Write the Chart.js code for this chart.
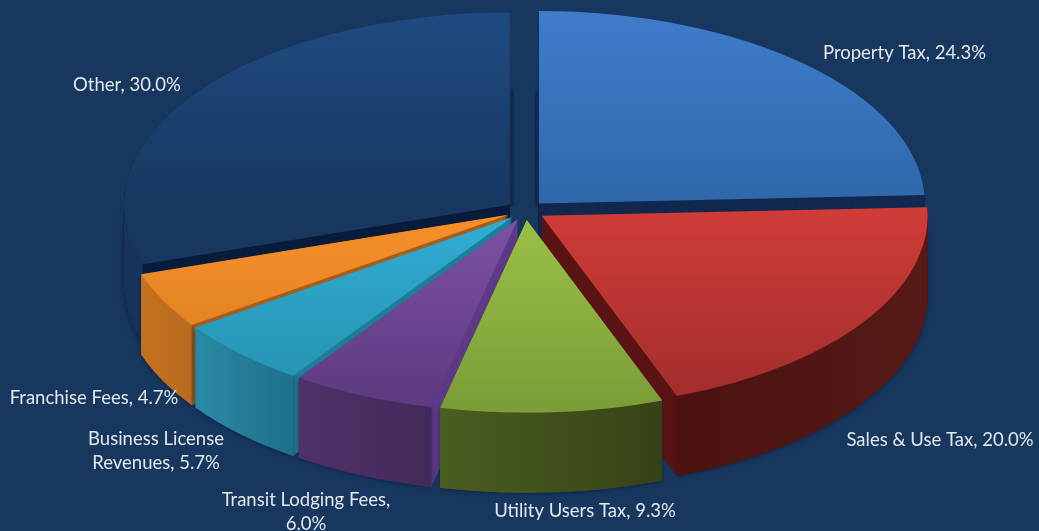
<!DOCTYPE html>
<html>
<head>
<meta charset="utf-8">
<title>Revenue by source</title>
<script src="https://cdn.jsdelivr.net/npm/chart.js@4"></script>
<style>
  html, body { margin: 0; padding: 0; background: #17375f; }
  .chart-wrap { position: relative; width: 1039px; height: 531px; }
</style>
</head>
<body>
<div class="chart-wrap"><canvas id="grafico"></canvas></div>
<script>
// Chart values
const categories = ['Property Tax', 'Sales & Use Tax', 'Utility Users Tax', 'Transit Lodging Fees', 'Business License Revenues', 'Franchise Fees', 'Other'];
const values = [24.3, 20.0, 9.3, 6.0, 5.7, 4.7, 30.0];
const sliceLabels = ['Property Tax, 24.3%', 'Sales & Use Tax, 20.0%', 'Utility Users Tax, 9.3%', 'Transit Lodging Fees,\n6.0%', 'Business License\nRevenues, 5.7%', 'Franchise Fees, 4.7%', 'Other, 30.0%'];

// Colours, same order as categories
const topColors = [['#3f7bca', '#2e67a8'], ['#d03c38', '#a02d2c'], ['#9bc245', '#7c9e39'], ['#7e52a8', '#5e3a80'], ['#31aed4', '#2590b0'], ['#f6902a', '#d97a22'], ['#1f4a80', '#17375f']];
const wallColors = [['#13294f', '#13294f'], ['#4a1210', '#571a17'], ['#4b5e20', '#364216'], ['#4d3168', '#432a5a'], ['#2a8aa5', '#1f6f8a'], ['#c4721f', '#b96a1f'], ['#16335b', '#16335b']];
const cutColors = ['#13294f', '#5a1414', '#5a6f26', '#5e3b87', '#1f7f98', '#a85f1a', '#0a1d3c'];
const wallOrder = [6, 0, 5, 4, 3, 1, 2]; // back to front

// Where each label is centred
const labelSpots = [[904.5, 53], [940, 440], [585, 511], [306, 500], [156, 439], [94, 398], [127, 85]];

const pieRadius = 386;
const explode = 19.3;
const depth = 80;
const squash = 192.5 / 386;
const pieCenterY = 210.5;

function topFill(ctx) {
  const area = ctx.chart.chartArea;
  const colors = topColors[ctx.dataIndex];
  if (!area) return colors[0];
  const cy = (area.top + area.bottom) / 2;
  // Property Tax and Other sit on the upper half of the pie
  const upper = ctx.dataIndex === 0 || ctx.dataIndex === 6;
  const grad = ctx.chart.ctx.createLinearGradient(0, upper ? cy - pieRadius : cy, 0, upper ? cy : cy + pieRadius);
  grad.addColorStop(0, colors[0]);
  grad.addColorStop(1, colors[1]);
  return grad;
}

function drawWall(ctx, arc, i) {
  const drop = depth / squash;
  const { x, y, startAngle, endAngle, outerRadius: r } = arc;

  // Cut faces: the slice repeated downwards
  ctx.fillStyle = cutColors[i];
  for (let d = drop; d > 0; d -= 1) {
    ctx.beginPath();
    ctx.moveTo(x, y + d);
    ctx.arc(x, y + d, r, startAngle, endAngle);
    ctx.closePath();
    ctx.fill();
  }

  // Outer rim, only the part that faces the viewer
  const from = Math.max(startAngle, 0);
  const to = Math.min(endAngle, Math.PI);
  if (to <= from) return;
  const grad = ctx.createLinearGradient(x + r * Math.cos(to), 0, x + r * Math.cos(from), 0);
  grad.addColorStop(0, wallColors[i][0]);
  grad.addColorStop(1, wallColors[i][1]);
  ctx.save();
  ctx.shadowColor = 'rgba(8, 20, 45, 0.55)';
  ctx.shadowBlur = 5;
  ctx.shadowOffsetY = 1;
  ctx.fillStyle = grad;
  ctx.beginPath();
  ctx.arc(x, y, r, from, to);
  ctx.arc(x, y + drop, r, to, from, true);
  ctx.closePath();
  ctx.fill();
  ctx.restore();
}

// Soft dark strips on both sides of the gap at the back of the pie
function drawGapShadow(ctx, arcs) {
  const left = arcs[6].x;
  const right = arcs[0].x;
  const top = pieCenterY - 125;
  const bottom = pieCenterY - 4;
  const fade = ctx.createLinearGradient(0, top, 0, bottom);
  fade.addColorStop(0, 'rgba(12, 32, 66, 0)');
  fade.addColorStop(0.08, 'rgba(12, 32, 66, 0.6)');
  fade.addColorStop(1, 'rgba(12, 32, 66, 0.6)');
  ctx.fillStyle = fade;
  ctx.fillRect(left, top, 4, bottom - top);
  ctx.fillRect(right - 4, top, 4, bottom - top);
}

// Tilts the pie, pulls the slices apart and adds the walls
const pie3d = {
  id: 'pie3d',
  afterDatasetsUpdate(chart) {
    chart.getDatasetMeta(0).data.forEach(arc => {
      const mid = (arc.startAngle + arc.endAngle) / 2;
      arc.x += Math.cos(mid) * explode;
      arc.y += Math.sin(mid) * explode;
    });
  },
  beforeDatasetsDraw(chart) {
    const { ctx, chartArea } = chart;
    const arcs = chart.getDatasetMeta(0).data;
    drawGapShadow(ctx, arcs);
    ctx.save();
    ctx.translate(0, pieCenterY);
    ctx.scale(1, squash);
    ctx.translate(0, -(chartArea.top + chartArea.bottom) / 2);
    wallOrder.forEach(i => drawWall(ctx, arcs[i], i));
  },
  afterDatasetsDraw(chart) {
    chart.ctx.restore();
  },
  afterDraw(chart) {
    const { ctx } = chart;
    ctx.save();
    ctx.font = '18.5px Lato, "Open Sans", sans-serif';
    ctx.fillStyle = '#e2e8ec';
    ctx.textAlign = 'center';
    ctx.textBaseline = 'middle';
    sliceLabels.forEach((text, i) => {
      text.split('\n').forEach((line, n) => {
        ctx.fillText(line, labelSpots[i][0], labelSpots[i][1] + n * 24);
      });
    });
    ctx.restore();
  }
};

new Chart(document.getElementById('grafico'), {
  type: 'pie',
  plugins: [pie3d],
  data: {
    labels: categories,
    datasets: [{
      data: values,
      backgroundColor: topFill,
      borderWidth: 0,
      radius: pieRadius,
      clip: false
    }]
  },
  options: {
    responsive: true,
    maintainAspectRatio: false,
    animation: false,
    events: [],
    layout: { padding: { left: 12 } },
    plugins: { legend: { display: false }, tooltip: { enabled: false } }
  }
});
</script>
</body>
</html>
